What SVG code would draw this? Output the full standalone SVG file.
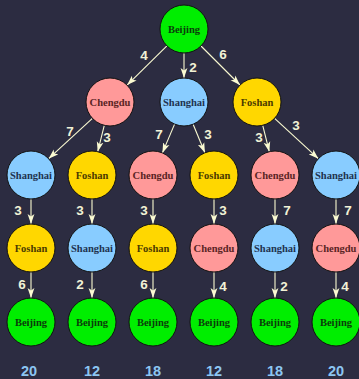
<svg xmlns="http://www.w3.org/2000/svg" width="359" height="379" viewBox="0 0 359 379">
  <defs>
    <marker id="arrow" markerUnits="userSpaceOnUse" markerWidth="10" markerHeight="8" viewBox="0 0 10 8" refX="10" refY="4" orient="auto">
      <path d="M0,0.6 L10,4 L0,7.4 L2.5,4 Z" fill="#fbfbd2"/>
    </marker>
  </defs>
  <style>
    .node circle { stroke: #111; stroke-width: 1; }
    .node text { font-family: "Liberation Serif", "DejaVu Serif", serif; font-weight: bold; font-size: 10.5px; text-anchor: middle; }
    .bj circle { fill: #00ee00; } .bj text { fill: #0b3d0b; }
    .cd circle { fill: #ff9999; } .cd text { fill: #5a2424; }
    .sh circle { fill: #88ccff; } .sh text { fill: #1f3350; }
    .fs circle { fill: #ffd700; } .fs text { fill: #4a3a00; }
    .edges line { stroke: #fbfbd2; stroke-width: 1.1; marker-end: url(#arrow); }
    .w { font-family: "Liberation Sans", Arial, sans-serif; font-weight: bold; font-size: 13.5px; fill: #f2f2d6; text-anchor: middle; }
    .total { font-family: "Liberation Sans", Arial, sans-serif; font-weight: bold; font-size: 14.5px; fill: #8cc6f2; text-anchor: middle; }
  </style>
  <rect width="359" height="379" fill="#2c2c41"/>

  <!-- connectors -->
  <g id="edges" class="edges">
    <line x1="166.9" y1="45.9" x2="127.1" y2="85.1"/>
    <line x1="184" y1="53" x2="184" y2="78"/>
    <line x1="201" y1="46" x2="240" y2="85"/>
    <line x1="92.4" y1="118.3" x2="48.6" y2="158.7"/>
    <line x1="104.3" y1="125.3" x2="97.7" y2="151.7"/>
    <line x1="174.6" y1="124.1" x2="162.4" y2="152.9"/>
    <line x1="193.1" y1="124.2" x2="204.9" y2="152.8"/>
    <line x1="262.7" y1="125.3" x2="269.3" y2="151.7"/>
    <line x1="274.6" y1="118.3" x2="318.4" y2="158.7"/>
    <line x1="31" y1="199" x2="31" y2="224"/>
    <line x1="92" y1="199" x2="92" y2="224"/>
    <line x1="153" y1="199" x2="153" y2="224"/>
    <line x1="214" y1="199" x2="214" y2="224"/>
    <line x1="275" y1="199" x2="275" y2="224"/>
    <line x1="336" y1="199" x2="336" y2="224"/>
    <line x1="31" y1="272" x2="31" y2="298"/>
    <line x1="92" y1="272" x2="92" y2="298"/>
    <line x1="153" y1="272" x2="153" y2="298"/>
    <line x1="214" y1="272" x2="214" y2="298"/>
    <line x1="275" y1="272" x2="275" y2="298"/>
    <line x1="336" y1="272" x2="336" y2="298"/>
  </g>

  <!-- edge weights -->
  <g id="weights">
    <text class="w" x="144" y="60">4</text>
    <text class="w" x="193" y="72">2</text>
    <text class="w" x="223" y="59">6</text>
    <text class="w" x="70" y="136">7</text>
    <text class="w" x="107" y="142">3</text>
    <text class="w" x="159" y="139">7</text>
    <text class="w" x="208" y="139">3</text>
    <text class="w" x="259" y="142">3</text>
    <text class="w" x="296" y="130">3</text>
    <text class="w" x="18" y="215">3</text>
    <text class="w" x="80" y="215">3</text>
    <text class="w" x="144" y="215">3</text>
    <text class="w" x="223" y="215">3</text>
    <text class="w" x="287" y="215">7</text>
    <text class="w" x="348" y="215">7</text>
    <text class="w" x="22" y="289">6</text>
    <text class="w" x="80" y="289">2</text>
    <text class="w" x="144" y="289">6</text>
    <text class="w" x="223" y="291">4</text>
    <text class="w" x="284" y="291">2</text>
    <text class="w" x="345" y="291">4</text>
  </g>

  <!-- root -->
  <g id="n0" class="node bj"><circle cx="184" cy="29" r="24"/><text x="184" y="32.5">Beijing</text></g>

  <!-- first stop -->
  <g id="n1" class="node cd"><circle cx="110" cy="102" r="24"/><text x="110" y="105.5">Chengdu</text></g>
  <g id="n2" class="node sh"><circle cx="184" cy="102" r="24"/><text x="184" y="105.5">Shanghai</text></g>
  <g id="n3" class="node fs"><circle cx="257" cy="102" r="24"/><text x="257" y="105.5">Foshan</text></g>

  <!-- second stop -->
  <g id="n4" class="node sh"><circle cx="31" cy="175" r="24"/><text x="31" y="178.5">Shanghai</text></g>
  <g id="n5" class="node fs"><circle cx="92" cy="175" r="24"/><text x="92" y="178.5">Foshan</text></g>
  <g id="n6" class="node cd"><circle cx="153" cy="175" r="24"/><text x="153" y="178.5">Chengdu</text></g>
  <g id="n7" class="node fs"><circle cx="214" cy="175" r="24"/><text x="214" y="178.5">Foshan</text></g>
  <g id="n8" class="node cd"><circle cx="275" cy="175" r="24"/><text x="275" y="178.5">Chengdu</text></g>
  <g id="n9" class="node sh"><circle cx="336" cy="175" r="24"/><text x="336" y="178.5">Shanghai</text></g>

  <!-- third stop -->
  <g id="n10" class="node fs"><circle cx="31" cy="248" r="24"/><text x="31" y="251.5">Foshan</text></g>
  <g id="n11" class="node sh"><circle cx="92" cy="248" r="24"/><text x="92" y="251.5">Shanghai</text></g>
  <g id="n12" class="node fs"><circle cx="153" cy="248" r="24"/><text x="153" y="251.5">Foshan</text></g>
  <g id="n13" class="node cd"><circle cx="214" cy="248" r="24"/><text x="214" y="251.5">Chengdu</text></g>
  <g id="n14" class="node sh"><circle cx="275" cy="248" r="24"/><text x="275" y="251.5">Shanghai</text></g>
  <g id="n15" class="node cd"><circle cx="336" cy="248" r="24"/><text x="336" y="251.5">Chengdu</text></g>

  <!-- return to start -->
  <g id="n16" class="node bj"><circle cx="31" cy="322" r="24"/><text x="31" y="325.5">Beijing</text></g>
  <g id="n17" class="node bj"><circle cx="92" cy="322" r="24"/><text x="92" y="325.5">Beijing</text></g>
  <g id="n18" class="node bj"><circle cx="153" cy="322" r="24"/><text x="153" y="325.5">Beijing</text></g>
  <g id="n19" class="node bj"><circle cx="214" cy="322" r="24"/><text x="214" y="325.5">Beijing</text></g>
  <g id="n20" class="node bj"><circle cx="275" cy="322" r="24"/><text x="275" y="325.5">Beijing</text></g>
  <g id="n21" class="node bj"><circle cx="336" cy="322" r="24"/><text x="336" y="325.5">Beijing</text></g>

  <!-- route totals -->
  <g id="totals">
    <text class="total" x="29" y="376">20</text>
    <text class="total" x="92" y="376">12</text>
    <text class="total" x="153" y="376">18</text>
    <text class="total" x="214" y="376">12</text>
    <text class="total" x="275" y="376">18</text>
    <text class="total" x="336" y="376">20</text>
  </g>
</svg>
